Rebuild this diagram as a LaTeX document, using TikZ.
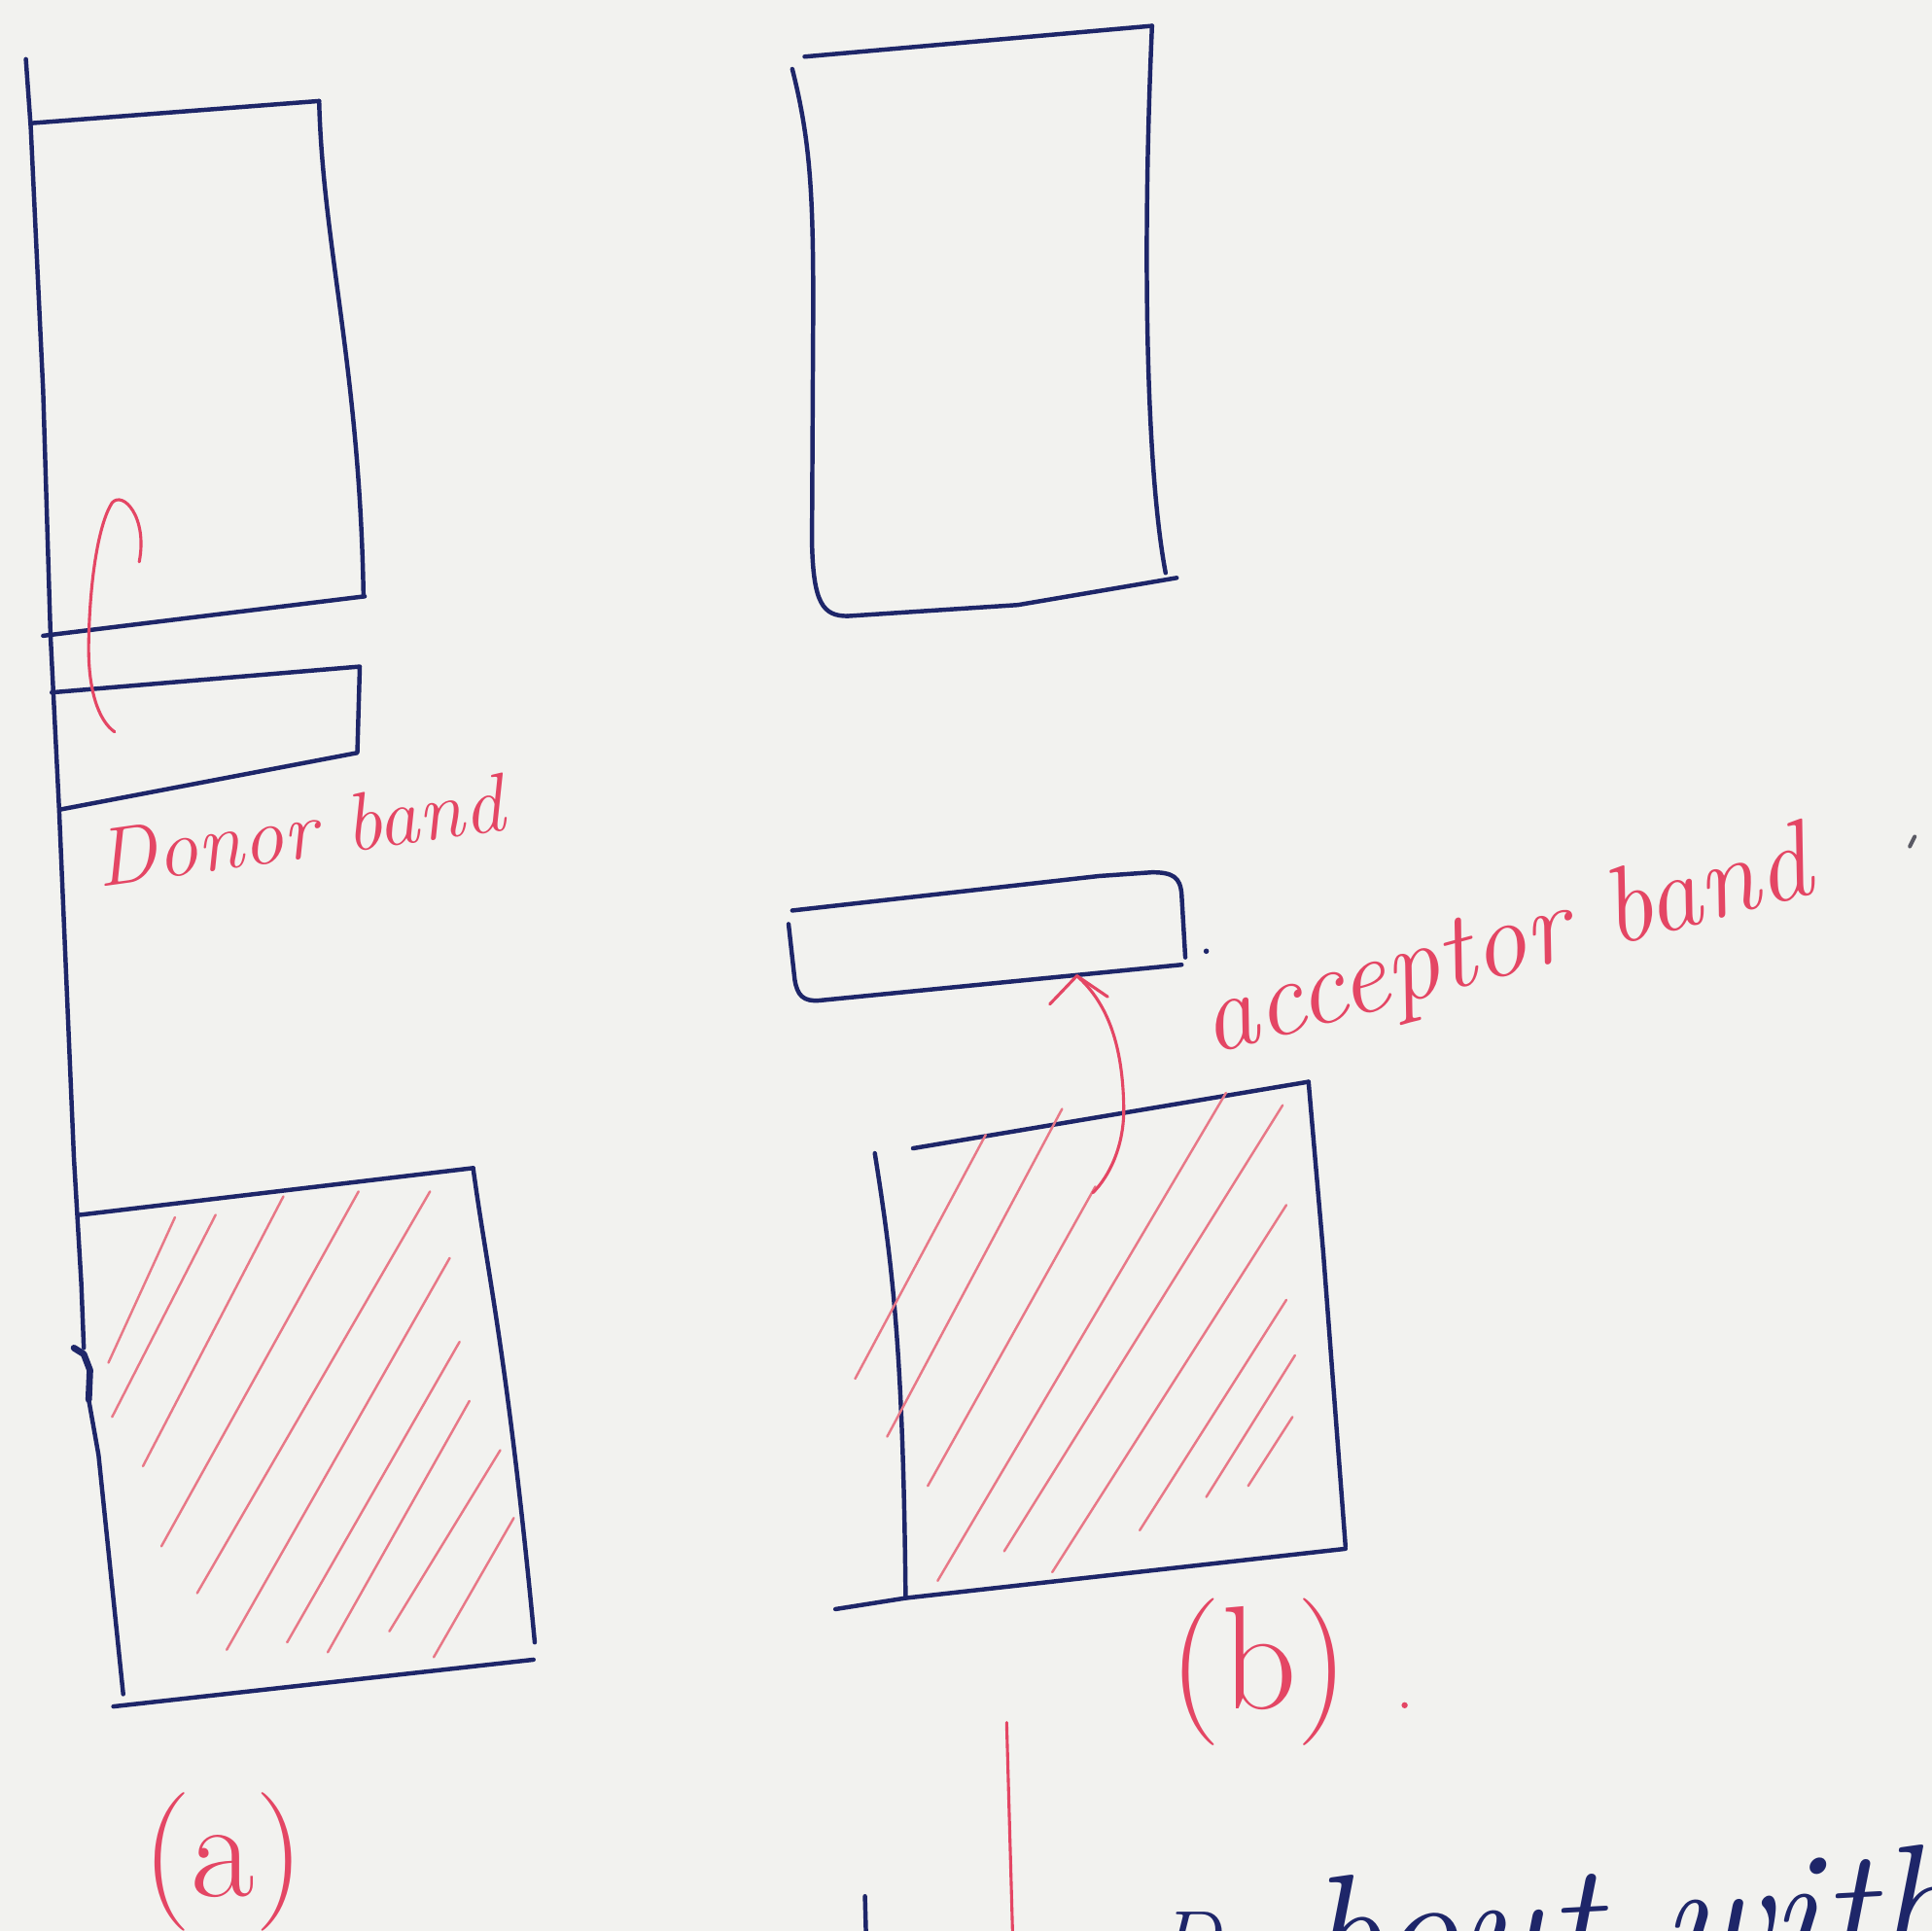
\documentclass[tikz,border=0pt]{standalone}
\usepackage{fontspec}
\definecolor{ink}{RGB}{30,38,105}
\definecolor{pen}{RGB}{228,70,100}
\definecolor{hatch}{RGB}{232,120,135}
\definecolor{paper}{RGB}{242,242,239}
\definecolor{speck}{RGB}{90,90,100}
\begin{document}
\begin{tikzpicture}[x=0.01cm,y=-0.01cm,
  inkline/.style={draw=ink,line width=1pt,line cap=round,line join=round},
  hatchline/.style={draw=hatch,line width=0.55pt,line cap=round},
  redpen/.style={draw=pen,line width=0.7pt,line cap=round,line join=round},
  lbl/.style={text=pen,inner sep=0pt}]
\useasboundingbox (0,0) rectangle (1568,1567);
\fill[paper] (0,0) rectangle (1568,1567);

% ---------- (a) ----------
\draw[inkline] (21,48) -- (25,104) -- (35,317) -- (41,516) -- (48,657) -- (60,940) -- (66,1042) -- (68,1094);
\draw[inkline,line width=1.5pt] (60,1094) -- (68,1099) -- (73,1112) -- (72,1136);
\draw[inkline] (72,1136) -- (80,1181) -- (100,1375);

\draw[inkline] (25,100) -- (259,82);
\draw[inkline] (259,82) .. controls (262,200) and (292,300) .. (295,484);
\draw[inkline] (296,484) -- (35,516);
\draw[inkline] (42,562) -- (292,541) -- (290,611) -- (49,657);

\draw[inkline] (65,986) -- (384,948);
\draw[inkline] (384,948) .. controls (395,1030) and (412,1100) .. (434,1333);
\draw[inkline] (92,1385) -- (433,1347);

\foreach \a/\b/\c/\d in {88/1106/142/988, 91/1150/175/986, 116/1190/230/971, 131/1255/291/967,
  160/1293/349/967, 184/1339/365/1021, 233/1333/373/1089, 266/1341/381/1137,
  316/1324/406/1177, 352/1345/417/1232}
  \draw[hatchline] (\a,\b) -- (\c,\d);

\draw[redpen] (93,594) .. controls (80,585) and (71,560) .. (72,520)
  .. controls (73,470) and (80,425) .. (91,408)
  .. controls (100,398) and (120,420) .. (113,456);

\node[lbl,font=\itshape\fontsize{19}{22}\selectfont,anchor=base west,rotate=8] (donor) at (80,720) {Donor band};
\node[lbl,font=\fontsize{32}{36}\selectfont] (capa) at (181,1511) {(a)};

% ---------- (b) ----------
\draw[inkline] (653,46) -- (935,21);
\draw[inkline] (935,21) .. controls (927,200) and (930,380) .. (946,465);
\draw[inkline] (643,56) .. controls (658,115) and (660,160) .. (660,250) -- (659,440) .. controls (660,490) and (668,500) .. (688,500);
\draw[inkline] (688,500) -- (826,491) -- (955,469);

\draw[inkline] (643,739) -- (892,711) -- (935,708) .. controls (952,708) and (958,712) .. (959,726) -- (962,777);
\draw[inkline] (640,750) -- (645,795) .. controls (647,808) and (652,813) .. (665,812) -- (959,783);
\fill[ink] (979,772) circle (2.2);

\draw[inkline] (741,932) -- (1062,878);
\draw[inkline] (1062,878) -- (1074,1017) -- (1092,1255);
\draw[inkline] (1092,1257) -- (735,1297) -- (678,1306);
\draw[inkline] (710,936) .. controls (725,1030) and (733,1100) .. (735,1297);

\foreach \a/\b/\c/\d in {694/1119/800/921, 720/1166/862/900, 753/1206/889/963, 761/1283/995/887,
  815/1259/1041/897, 854/1276/1044/978, 925/1242/1044/1055, 979/1215/1051/1100, 1013/1206/1049/1150}
  \draw[hatchline] (\a,\b) -- (\c,\d);

\draw[redpen] (852,815) -- (874,792) -- (899,809);
\draw[redpen] (874,792) .. controls (900,815) and (911,850) .. (912,897) .. controls (913,930) and (900,955) .. (887,968);

\node[lbl,font=\itshape\fontsize{25}{30}\selectfont,anchor=base west,rotate=15] (acceptor) at (982,856) {acceptor band};
\draw[draw=speck,line width=0.9pt,line cap=round] (1554,679) -- (1550,687);

\node[lbl,font=\fontsize{34}{40}\selectfont] (capb) at (1022,1357) {(b)};
\fill[pen] (1140,1384) circle (2.5);

% ---------- bottom ----------
\draw[redpen] (817,1398) -- (822,1575);
\draw[inkline] (702,1539) -- (703,1575);
\node[text=ink,inner sep=0pt,font=\itshape\fontsize{20}{24}\selectfont,anchor=base west] (botd) at (938,1600) {D};
\node[text=ink,inner sep=0pt,font=\itshape\fontsize{39}{44}\selectfont,anchor=base west,rotate=3] (botw) at (1062,1619) {bout with};
\end{tikzpicture}
\end{document}
